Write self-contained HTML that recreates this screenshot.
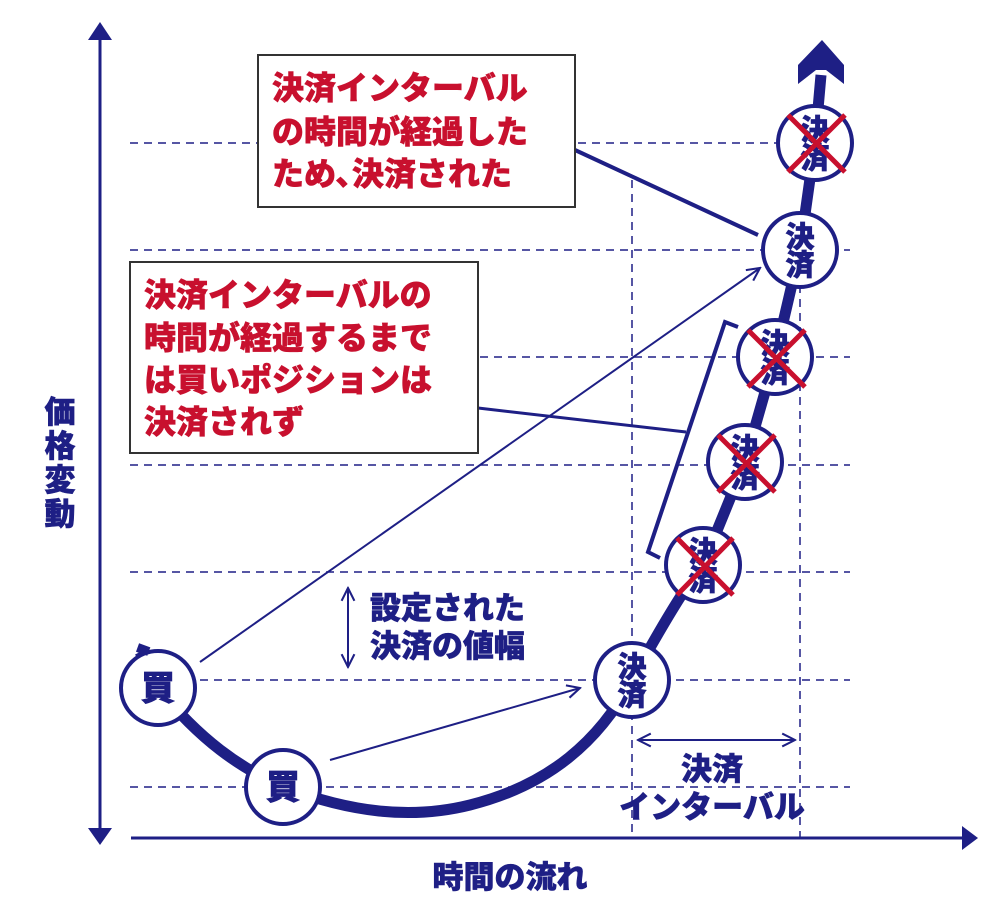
<!DOCTYPE html>
<html><head><meta charset="utf-8"><style>
html,body{margin:0;padding:0;background:#fff;}
svg{display:block;}
text{font-family:"Liberation Sans","Noto Sans CJK JP",sans-serif;font-weight:900;}
</style></head><body>
<svg width="1000" height="903" viewBox="0 0 1000 903" xmlns="http://www.w3.org/2000/svg">
<defs>
<marker id="ah" viewBox="0 0 10 10" refX="9" refY="5" markerWidth="8" markerHeight="8" orient="auto-start-reverse"><path d="M1,1 L9,5 L1,9" fill="none" stroke="#1e1f85" stroke-width="1.3"/></marker>
</defs>
<g stroke="#1e1f85" stroke-width="1.5" stroke-dasharray="8,6" fill="none">
<line x1="130" y1="143" x2="850" y2="143"/>
<line x1="130" y1="250" x2="850" y2="250"/>
<line x1="130" y1="357" x2="850" y2="357"/>
<line x1="130" y1="465" x2="850" y2="465"/>
<line x1="130" y1="572" x2="850" y2="572"/>
<line x1="200" y1="680" x2="850" y2="680"/>
<line x1="130" y1="787" x2="850" y2="787"/>
<line x1="632" y1="180" x2="632" y2="838"/>
<line x1="800" y1="285" x2="800" y2="838"/>
</g>
<line x1="100" y1="35" x2="100" y2="832" stroke="#1e1f85" stroke-width="3"/>
<polygon points="100,22 88,40 112,40" fill="#1e1f85"/>
<polygon points="100,845 88,828 112,828" fill="#1e1f85"/>
<line x1="131" y1="838" x2="965" y2="838" stroke="#1e1f85" stroke-width="3"/>
<polygon points="978,838 962,826 962,850" fill="#1e1f85"/>
<path d="M140,652 L158,688 C200,740 240,768 283,787 C350,812 410,820 470,805 C550,785 600,740 632,680 C665,620 690,580 703,565 L745,462 L775,357 L800,250 L815,143 L821,75" fill="none" stroke="#1e1f85" stroke-width="11"/>
<polygon points="822,40 844,65 844,84 826,70 816,70 798,84 798,65" fill="#1e1f85"/>
<line x1="200" y1="662" x2="760" y2="268" stroke="#1e1f85" stroke-width="2" marker-end="url(#ah)"/>
<line x1="330" y1="760" x2="580" y2="688" stroke="#1e1f85" stroke-width="2" marker-end="url(#ah)"/>
<line x1="348" y1="588" x2="348" y2="667" stroke="#1e1f85" stroke-width="2" marker-start="url(#ah)" marker-end="url(#ah)"/>
<line x1="638" y1="740" x2="795" y2="740" stroke="#1e1f85" stroke-width="2" marker-start="url(#ah)" marker-end="url(#ah)"/>
<line x1="575" y1="150" x2="758" y2="235" stroke="#1e1f85" stroke-width="4"/>
<line x1="478" y1="408" x2="686" y2="432" stroke="#1e1f85" stroke-width="3"/>
<polyline points="738,327 725,322 648,552 660,558" fill="none" stroke="#1e1f85" stroke-width="4"/>
<g fill="#fff" stroke="#1e1f85" stroke-width="4">
<circle cx="158" cy="688" r="37"/>
<circle cx="283" cy="787" r="37"/>
<circle cx="632" cy="680" r="37"/>
<circle cx="703" cy="565" r="37"/>
<circle cx="745" cy="462" r="37"/>
<circle cx="775" cy="357" r="37"/>
<circle cx="800" cy="250" r="37"/>
<circle cx="815" cy="143" r="37"/>
</g>
<g fill="#1e1f85" font-size="34" text-anchor="middle" stroke="#1e1f85" stroke-width="0.8">
<text x="158" y="700">買</text>
<text x="283" y="799">買</text>
</g>
<g fill="#1e1f85" font-size="29" text-anchor="middle" stroke="#1e1f85" stroke-width="0.8">
<text x="632" y="677">決</text><text x="632" y="705">済</text>
<text x="800" y="247">決</text><text x="800" y="275">済</text>
<text x="703" y="562">決</text><text x="703" y="590">済</text>
<text x="745" y="459">決</text><text x="745" y="487">済</text>
<text x="775" y="354">決</text><text x="775" y="382">済</text>
<text x="815" y="140">決</text><text x="815" y="168">済</text>
</g>
<g stroke="#c8102e" stroke-width="5">
<line x1="677" y1="538" x2="733" y2="595"/><line x1="733" y1="538" x2="677" y2="595"/>
<line x1="718" y1="435" x2="775" y2="492"/><line x1="775" y1="435" x2="718" y2="492"/>
<line x1="748" y1="330" x2="805" y2="387"/><line x1="805" y1="330" x2="748" y2="387"/>
<line x1="788" y1="115" x2="845" y2="172"/><line x1="845" y1="115" x2="788" y2="172"/>
</g>
<rect x="137" y="645" width="12" height="9" fill="#1e1f85" transform="rotate(20 143 650)"/>
<rect x="258" y="55" width="317" height="152" fill="#fff" stroke="#333" stroke-width="2"/>
<g fill="#c8102e" font-size="32" stroke="#c8102e" stroke-width="0.6">
<text x="272" y="99">決済インターバル</text>
<text x="272" y="143">の時間が経過した</text>
<text x="272" y="185">ため､決済された</text>
</g>
<rect x="130" y="262" width="348" height="191" fill="#fff" stroke="#333" stroke-width="2"/>
<g fill="#c8102e" font-size="32" stroke="#c8102e" stroke-width="0.6">
<text x="144" y="306">決済インターバルの</text>
<text x="144" y="349">時間が経過するまで</text>
<text x="144" y="391">は買いポジションは</text>
<text x="144" y="433">決済されず</text>
</g>
<g fill="#1e1f85" font-size="31" stroke="#1e1f85" stroke-width="0.6">
<text x="370" y="619">設定された</text>
<text x="370" y="657">決済の値幅</text>
<text x="712" y="780" text-anchor="middle">決済</text>
<text x="712" y="818" text-anchor="middle">インターバル</text>
<text x="510" y="888" text-anchor="middle">時間の流れ</text>
<text x="60" y="423" text-anchor="middle">価</text>
<text x="60" y="457" text-anchor="middle">格</text>
<text x="60" y="491" text-anchor="middle">変</text>
<text x="60" y="525" text-anchor="middle">動</text>
</g>
</svg>
</body></html>
